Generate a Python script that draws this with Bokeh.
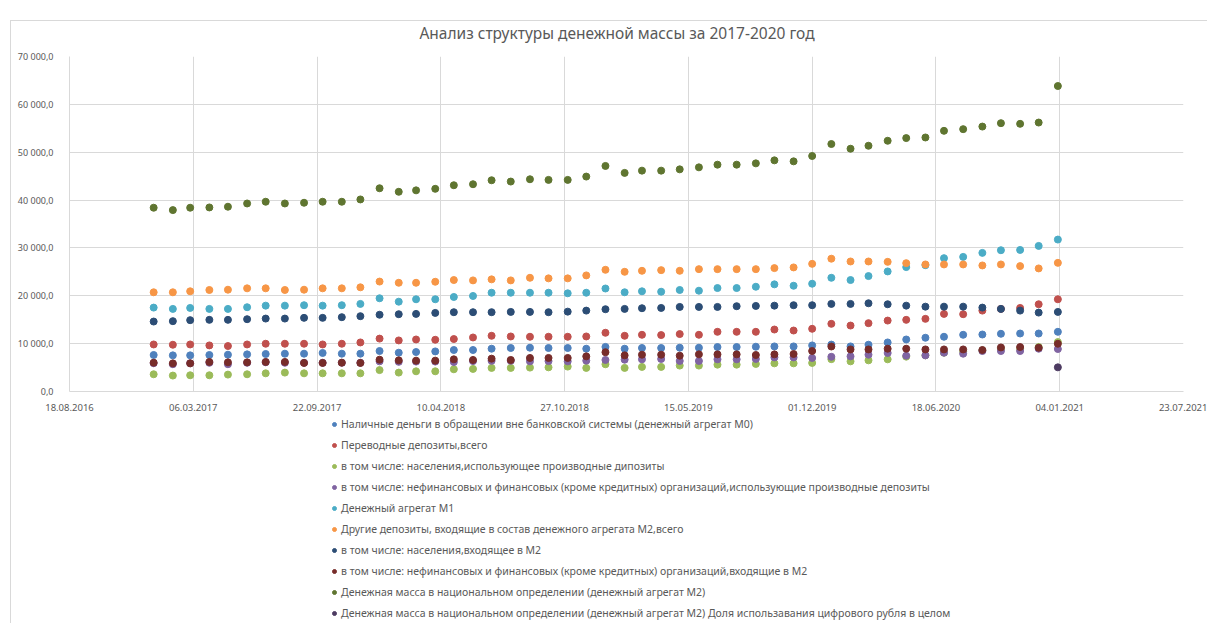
import pandas as pd
from bokeh.plotting import figure
from bokeh.layouts import column
from bokeh.models import (Range1d, FixedTicker, DatetimeTickFormatter, Legend, LegendItem, Div)
from bokeh.embed import file_html
from bokeh.resources import INLINE

title = "Анализ структуры денежной массы за 2017-2020 год"

# monthly observations 01.01.2017 .. 01.01.2021
dates = pd.date_range("2017-01-01", "2021-01-01", freq="MS")

m0 = [7630, 7550, 7550, 7630, 7690, 7760, 7840, 7900, 7900, 8050, 7900, 7900, 8460,
      8110, 8250, 8380, 8670, 8670, 8940, 9090, 9150, 9090, 9090, 8940, 9320,
      8940, 9090, 9090, 9150, 9150, 9290, 9290, 9360, 9420, 9420, 9630, 9800,
      9420, 9770, 10250, 10870, 11230, 11440, 11850, 11910, 12060, 12120, 12120, 12470]
transfer = [9830, 9770, 9830, 9630, 9500, 9830, 9980, 9980, 9980, 9830, 9980, 10250, 11050,
            10670, 10870, 10810, 10960, 11290, 11640, 11500, 11440, 11440, 11440, 11500, 12270,
            11640, 11850, 11790, 12000, 11850, 12470, 12470, 12470, 12950, 12740, 13100, 14140,
            13780, 14280, 14820, 14970, 15180, 16220, 16150, 16900, 17260, 17460, 18230, 19270]
hh_deriv = [3600, 3330, 3390, 3390, 3530, 3600, 3800, 3950, 3800, 3800, 3800, 3800, 4470,
            3950, 4220, 4220, 4640, 4720, 4930, 4930, 4990, 5050, 5200, 4930, 5690,
            4930, 5140, 5140, 5410, 5410, 5610, 5610, 5760, 5880, 5880, 5970, 6760,
            6300, 6510, 6720, 7280, 7550, 8110, 8380, 8590, 8940, 8940, 9290, 10330]
org_deriv = [5900, 5700, 5900, 6000, 5700, 6000, 6100, 6000, 6000, 6000, 6000, 6000,
             6300, 6200, 6250, 6250, 6150, 6350, 6400, 6400, 6300, 6350, 6300, 6450, 6590,
             6650, 6720, 6800, 6380, 6380, 6720, 6720, 6800, 7130, 7130, 7010, 7250,
             7340, 7690, 8050, 7480, 7550, 8110, 7900, 8460, 8460, 8460, 8940, 8880]
m1 = [17530, 17260, 17460, 17260, 17260, 17610, 17940, 17940, 18030, 17940, 18030, 18300, 19480,
      18770, 19270, 19270, 19750, 19960, 20640, 20640, 20640, 20640, 20520, 20640, 21520,
      20730, 20940, 20850, 21210, 21060, 21620, 21620, 21890, 22390, 22100, 22520, 23760,
      23290, 24120, 25090, 25990, 26400, 27860, 28130, 28960, 29520, 29580, 30420, 31750]
other_dep = [20730, 20730, 20940, 21210, 21270, 21560, 21560, 21210, 21270, 21560, 21560, 21770, 22970,
             22720, 22720, 22930, 23290, 23220, 23430, 23220, 23760, 23640, 23640, 24260, 25430,
             25010, 25220, 25360, 25220, 25570, 25570, 25570, 25570, 25780, 25930, 26670, 27750,
             27170, 27170, 27090, 26820, 26550, 26550, 26550, 26340, 26550, 26200, 25720, 26880]
hh_m2 = [14620, 14700, 14910, 14970, 14970, 15110, 15240, 15240, 15390, 15390, 15530, 15740, 16040,
         16150, 16220, 16420, 16570, 16570, 16570, 16630, 16630, 16570, 16690, 16900, 17190,
         17260, 17400, 17460, 17670, 17670, 17670, 17820, 17880, 17940, 18030, 18030, 18300,
         18300, 18440, 18230, 17940, 17730, 17730, 17730, 17530, 17260, 16900, 16490, 16630]
org_m2 = [6030, 5880, 5880, 6180, 6090, 6090, 6180, 6180, 5970, 5970, 6030, 5970, 6650,
          6510, 6450, 6450, 6720, 6590, 6860, 6590, 7010, 7010, 7010, 7340, 8210,
          7550, 7690, 7690, 7480, 7760, 7760, 7760, 7630, 7760, 7840, 8460, 9400,
          8790, 8790, 8940, 8940, 8790, 8790, 8790, 8670, 9210, 9290, 9150, 9980]
m2 = [38400, 37900, 38400, 38460, 38610, 39290, 39650, 39290, 39440, 39650, 39650, 40130, 42470,
      41730, 42030, 42350, 43100, 43310, 44140, 43870, 44350, 44220, 44220, 44910, 47130,
      45680, 46150, 46150, 46420, 46840, 47400, 47400, 47670, 48300, 48090, 49210, 51710,
      50730, 51350, 52390, 52950, 53080, 54470, 54820, 55360, 56070, 55930, 56200, 63830]
digital_dates = pd.to_datetime(["2021-01-01"])
digital = [5050]

labels = [
    "Наличные деньги в обращении вне банковской системы (денежный агрегат М0)",
    "Переводные депозиты,всего",
    "в том числе: населения,использующее производные дипозиты",
    "в том числе: нефинансовых и финансовых (кроме кредитных) организаций,использующие производные депозиты",
    "Денежный агрегат М1",
    "Другие депозиты, входящие в состав денежного агрегата М2,всего",
    "в том числе: населения,входящее в М2",
    "в том числе: нефинансовых и финансовых (кроме кредитных) организаций,входящие в М2",
    "Денежная масса в национальном определении (денежный агрегат М2)",
    "Денежная масса в национальном определении (денежный агрегат М2) Доля использавания цифрового рубля в целом",
]
colors = ["#4F81BD", "#C0504D", "#9BBB59", "#8064A2", "#4BACC6",
          "#F79646", "#2C4D75", "#772C2A", "#5F7530", "#4D3B62"]

y_ticks = [0, 10000, 20000, 30000, 40000, 50000, 60000, 70000]
y_tick_labels = ["0,0", "10 000,0", "20 000,0", "30 000,0", "40 000,0", "50 000,0", "60 000,0", "70 000,0"]
x_tick_labels = ["18.08.2016", "06.03.2017", "22.09.2017", "10.04.2018", "27.10.2018",
                 "15.05.2019", "01.12.2019", "18.06.2020", "04.01.2021", "23.07.2021"]

x_ticks_dt = pd.to_datetime(x_tick_labels, format="%d.%m.%Y")
x_ticks_ms = [t.value / 1e6 for t in x_ticks_dt]

FONT = "Noto Sans"
GREY = "#595959"
GRID = "#d9d9d9"
W = 1197

head = Div(text=(f'<div style="font-family: \'Noto Sans\'; font-size: 15.5px; color: {GREY}; '
                 f'text-align: center; line-height: 24px; width: {W}px; box-sizing: border-box; '
                 f'padding-left: 15px;">{title}</div>'),
           width=W, height=28)
head.margin = (20, 0, 0, 10)
head.styles = {"border-left": "1px solid #d9d9d9", "border-top": "1px solid #d9d9d9"}

p = figure(width=W, height=365, x_axis_type="datetime",
           x_range=Range1d(x_ticks_dt[0], x_ticks_dt[-1]),
           y_range=Range1d(0, 70000),
           output_backend="svg", toolbar_location=None,
           min_border_left=58, min_border_right=25, min_border_top=8, min_border_bottom=20)
p.margin = (0, 0, 0, 10)
p.styles = {"border-left": "1px solid #d9d9d9"}
p.outline_line_color = None

xa = p.xaxis[0]
xa.ticker = FixedTicker(ticks=x_ticks_ms)
fmt = "%d.%m.%Y"
xa.formatter = DatetimeTickFormatter(microseconds=fmt, milliseconds=fmt, seconds=fmt, minsec=fmt,
                                     minutes=fmt, hourmin=fmt, hours=fmt, days=fmt, months=fmt, years=fmt)
ya = p.yaxis[0]
ya.ticker = FixedTicker(ticks=y_ticks)
ya.major_label_overrides = {t: l for t, l in zip(y_ticks, y_tick_labels)}

for ax in (xa, ya):
    ax.axis_line_color = GRID
    ax.major_tick_line_color = None
    ax.minor_tick_line_color = None
    ax.major_label_text_font = FONT
    ax.major_label_text_color = GREY
xa.major_label_text_font_size = "9.5px"
ya.major_label_text_font_size = "9px"
xa.major_label_standoff = 6
ya.major_label_standoff = 10

p.xgrid.ticker = FixedTicker(ticks=x_ticks_ms)
p.xgrid.grid_line_color = GRID
p.ygrid.grid_line_color = GRID

series = [m0, transfer, hh_deriv, org_deriv, m1, other_dep, hh_m2, org_m2, m2]
for vals, col in zip(series, colors[:9]):
    p.scatter(dates, vals, size=7, marker="circle", fill_color=col, line_color=col)
p.scatter(digital_dates, digital, size=7, marker="circle", fill_color=colors[9], line_color=colors[9])

# legend panel below the chart (its renderers sit outside the visible range)
leg = figure(width=W, height=210, x_range=(0, 1), y_range=(0, 1),
             output_backend="svg", toolbar_location=None,
             min_border_left=0, min_border_right=0, min_border_top=0, min_border_bottom=0)
leg.margin = (0, 0, 0, 10)
leg.styles = {"border-left": "1px solid #d9d9d9"}
leg.axis.visible = False
leg.grid.visible = False
leg.outline_line_color = None
items = []
for lab, col in zip(labels, colors):
    r = leg.scatter(x=[-10], y=[-10], size=6, marker="circle", fill_color=col, line_color=col)
    items.append(LegendItem(label=lab, renderers=[r]))
legend = Legend(items=items, orientation="vertical", location=(260, 0),
                border_line_color=None, background_fill_alpha=0,
                label_text_font=FONT, label_text_font_size="10.5px", label_text_color=GREY,
                glyph_width=10, glyph_height=12, label_height=21, label_standoff=2,
                spacing=0, padding=0, margin=0)
leg.add_layout(legend)

layout = column(head, p, leg, spacing=0)
open("out.html", "w").write(file_html(layout, INLINE))
